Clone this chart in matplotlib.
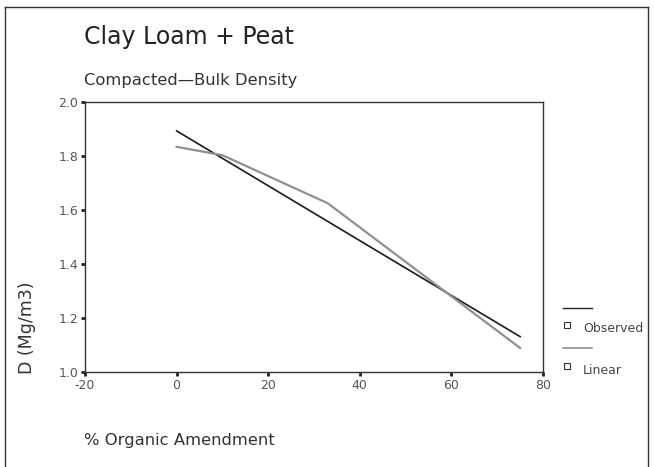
import matplotlib
matplotlib.use("Agg")
import matplotlib.pyplot as plt
from matplotlib.lines import Line2D

# Data
obs_x = [0, 75]
obs_y = [1.893, 1.131]
lin_x = [0, 10, 33, 75]
lin_y = [1.834, 1.803, 1.625, 1.089]
x_ticks = [-20, 0, 20, 40, 60, 80]
y_ticks = [1.0, 1.2, 1.4, 1.6, 1.8, 2.0]

plt.rcParams['font.family'] = ['DejaVu Sans']

fig = plt.figure(figsize=(6.54, 4.67), dpi=100)
W, H = 654, 467
ax = fig.add_axes([85 / W, 1 - 372 / H, (543 - 85) / W, (372 - 102) / H])

ax.plot(obs_x, obs_y, color="#1a1a1a", lw=1.2)
ax.plot(lin_x, lin_y, color="#909090", lw=1.6)

ax.set_xlim(-20, 80)
ax.set_ylim(1.0, 2.0)
ax.set_xticks(x_ticks)
ax.set_xticklabels([str(v) for v in x_ticks])
ax.set_yticks(y_ticks)
ax.set_yticklabels([f"{v:.1f}" for v in y_ticks])
ax.tick_params(direction="out", length=3, width=2, colors="#222222",
               labelcolor="#555555", labelsize=9, pad=2)
for s in ax.spines.values():
    s.set_linewidth(1.0)
    s.set_color("#333333")

# Texts
fig.text(84 / W, 1 - 44 / H, "Clay Loam + Peat", fontsize=17, color="#222222",
         ha="left", va="baseline")
fig.text(84 / W, 1 - 85 / H, "Compacted\u2014Bulk Density", fontsize=11.8,
         color="#333333", ha="left", va="baseline")
fig.text(84 / W, 1 - 445 / H, "% Organic Amendment", fontsize=11.8,
         color="#333333", ha="left", va="baseline")
fig.text(27 / W, 1 - 374 / H, "D (Mg/m3)", fontsize=12.5, color="#333333",
         rotation=90, ha="center", va="bottom")

# Legend (manual, SPSS style)
fig.add_artist(Line2D([563 / W, 592 / W], [1 - 308 / H, 1 - 308 / H],
                      color="#222222", lw=1.0))
fig.add_artist(Line2D([567 / W], [1 - 325 / H], marker="s", ms=4,
                      mfc="white", mec="#333333", mew=0.8, ls="none"))
fig.text(583 / W, 1 - 328 / H, "Observed", fontsize=9, color="#444444",
         ha="left", va="center")
fig.add_artist(Line2D([563 / W, 592 / W], [1 - 348 / H, 1 - 348 / H],
                      color="#909090", lw=1.2))
fig.add_artist(Line2D([567 / W], [1 - 366 / H], marker="s", ms=4,
                      mfc="white", mec="#333333", mew=0.8, ls="none"))
fig.text(583 / W, 1 - 370 / H, "Linear", fontsize=9, color="#444444",
         ha="left", va="center")

# Outer frame
fig.add_artist(Line2D([5 / W, 5 / W], [0, 1 - 7 / H], color="#333333", lw=1.0))
fig.add_artist(Line2D([5 / W, 648 / W], [1 - 7 / H, 1 - 7 / H], color="#333333", lw=1.0))
fig.add_artist(Line2D([648 / W, 648 / W], [0, 1 - 7 / H], color="#333333", lw=1.0))

fig.savefig("out.png", dpi=100)
